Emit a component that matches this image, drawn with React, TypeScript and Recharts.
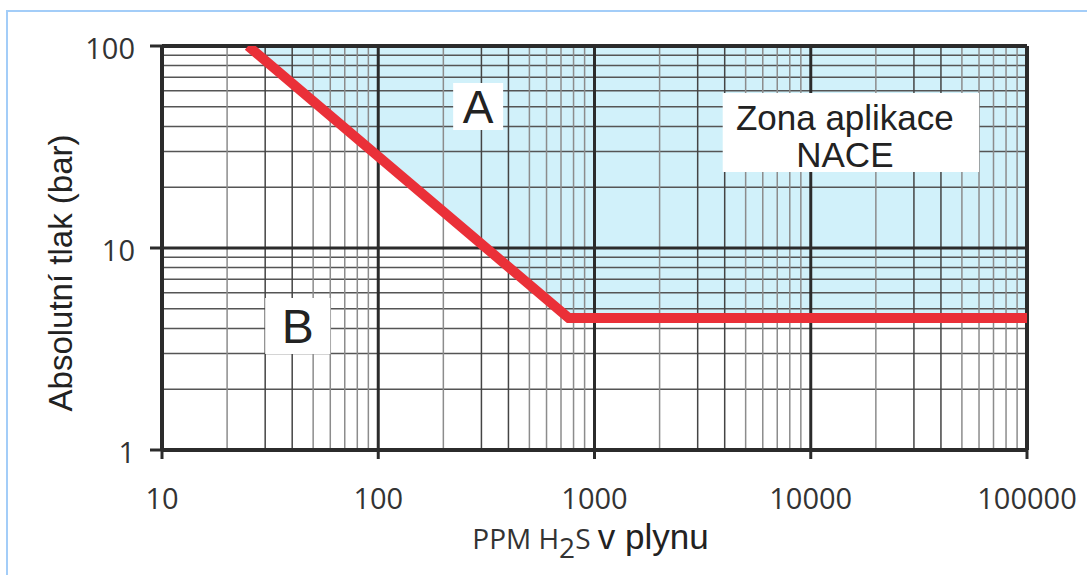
import React from "react";
import {
  ComposedChart,
  Area,
  Line,
  XAxis,
  YAxis,
  ReferenceLine,
  ReferenceArea,
  Label,
} from "recharts";

// PPM H2S v plynu (log), hranice zony NACE
const ppm = [25, 760, 100000];
const limitBar = [100, 4.5, 4.5];
const zoneTopBar = 100;

const ppmTicks = [10, 100, 1000, 10000, 100000];
const barTicks = [1, 10, 100];
const minorSteps = [2, 3, 4, 5, 6, 7, 8, 9];

const data = ppm.map((x, i) => ({
  ppm: x,
  limit: limitBar[i],
  zone: [limitBar[i], zoneTopBar],
}));

const ppmMinor = ppmTicks.slice(0, -1).flatMap((d) => minorSteps.map((m) => ({ v: d * m, m })));
const barMinor = barTicks.slice(0, -1).flatMap((d) => minorSteps.map((m) => d * m));

const DARK = "#2b2b2b";
const tickFont = { fontSize: 29, fill: "#333", fontFamily: "'Open Sans', sans-serif" };
const arial = "'Liberation Sans', Arial, sans-serif";

const YTitle = () => {
  return (
    <text
      transform="translate(72, 273) rotate(-90)"
      textAnchor="middle"
      fontFamily={arial}
      fontSize={33}
      fill="#222"
    >
      Absolutní tlak (bar)
    </text>
  );
};

const XTitle = (props: any) => {
  const vb = props.viewBox;
  return (
    <text x={vb.x + vb.width / 2 - 4} y={vb.y + 99} textAnchor="middle" fill="#333">
      <tspan fontFamily="'Open Sans', sans-serif" fontSize={28}>PPM H</tspan>
      <tspan fontFamily="'Open Sans', sans-serif" fontSize={28} dy={9}>2</tspan>
      <tspan fontFamily="'Open Sans', sans-serif" fontSize={28} dy={-9}>S </tspan>
      <tspan fontFamily={arial} fontSize={35} fill="#222">v plynu</tspan>
    </text>
  );
};

const ZoneLabel = (props: any) => {
  const vb = props.viewBox;
  const cx = vb.x + vb.width / 2 - 6;
  return (
    <text textAnchor="middle" fontFamily={arial} fontSize={35} fill="#222">
      <tspan x={cx} y={vb.y + 37}>Zona aplikace</tspan>
      <tspan x={cx} y={vb.y + 74}>NACE</tspan>
    </text>
  );
};

export default function App() {
  return (
    <div style={{ position: "absolute", left: 0, top: 0, width: 1087, height: 575, background: "#fff" }}>
      <div style={{ position: "absolute", left: 6, top: 10, width: 1081, height: 2, background: "#a3cdf8" }} />
      <div style={{ position: "absolute", left: 6, top: 10, width: 2, height: 565, background: "#a3cdf8" }} />
      <div style={{ position: "absolute", left: 0, top: 0 }}>
        <ComposedChart width={1087} height={575} data={data} margin={{ top: 46, right: 60, bottom: 50, left: 0 }}>
          <XAxis
            dataKey="ppm"
            type="number"
            scale="log"
            domain={[10, 100000]}
            ticks={ppmTicks}
            allowDataOverflow
            height={75}
            tick={tickFont}
            tickSize={9}
            tickMargin={29}
            axisLine={{ stroke: DARK, strokeWidth: 4 }}
            tickLine={{ stroke: DARK, strokeWidth: 3 }}
          >
            <Label content={XTitle} />
          </XAxis>
          <YAxis
            type="number"
            scale="log"
            domain={[1, 100]}
            ticks={barTicks}
            allowDataOverflow
            width={162}
            tick={{ ...tickFont, dy: 3 }}
            tickSize={12}
            tickMargin={15}
            axisLine={{ stroke: DARK, strokeWidth: 4 }}
            tickLine={{ stroke: DARK, strokeWidth: 3 }}
          >
            <Label content={YTitle} />
          </YAxis>

          <Area
            dataKey="zone"
            type="linear"
            stroke="none"
            fill="#c9eef9"
            fillOpacity={0.85}
            isAnimationActive={false}
            activeDot={false}
            zIndex={100}
          />

          {barMinor.map((v) => (
            <ReferenceLine key={"h" + v} y={v} stroke="#555" strokeWidth={1.5} zIndex={300} />
          ))}
          {ppmMinor.map(({ v, m }) => (
            <ReferenceLine
              key={"v" + v}
              x={v}
              stroke={m === 3 || m === 4 ? "#444" : "#8c8c8c"}
              strokeWidth={1.5}
              zIndex={300}
            />
          ))}
          {barTicks.slice(1).map((v) => (
            <ReferenceLine key={"H" + v} y={v} stroke={DARK} strokeWidth={v === 100 ? 4 : 3} zIndex={310} />
          ))}
          {ppmTicks.slice(1).map((v) => (
            <ReferenceLine key={"V" + v} x={v} stroke={DARK} strokeWidth={v === 100000 ? 4 : 3} zIndex={310} />
          ))}

          <Line
            dataKey="limit"
            type="linear"
            stroke="#ea3038"
            strokeWidth={10}
            dot={false}
            activeDot={false}
            isAnimationActive={false}
            zIndex={500}
          />

          <ReferenceArea
            x1={222}
            x2={378}
            y1={38.4}
            y2={65.6}
            fill="#fff"
            fillOpacity={1}
            stroke="none"
            zIndex={600}
            label={{ value: "A", position: "center", fontSize: 46, fill: "#222", fontFamily: arial }}
          />
          <ReferenceArea
            x1={30}
            x2={60}
            y1={2.99}
            y2={5.65}
            fill="#fff"
            fillOpacity={1}
            stroke="none"
            zIndex={600}
            label={{ value: "B", position: "center", fontSize: 48, fill: "#222", fontFamily: arial }}
          />
          <ReferenceArea
            x1={3917}
            x2={59980}
            y1={23.8}
            y2={58.5}
            fill="#fff"
            fillOpacity={1}
            stroke="none"
            zIndex={600}
            label={<Label content={ZoneLabel} />}
          />
        </ComposedChart>
      </div>
    </div>
  );
}
